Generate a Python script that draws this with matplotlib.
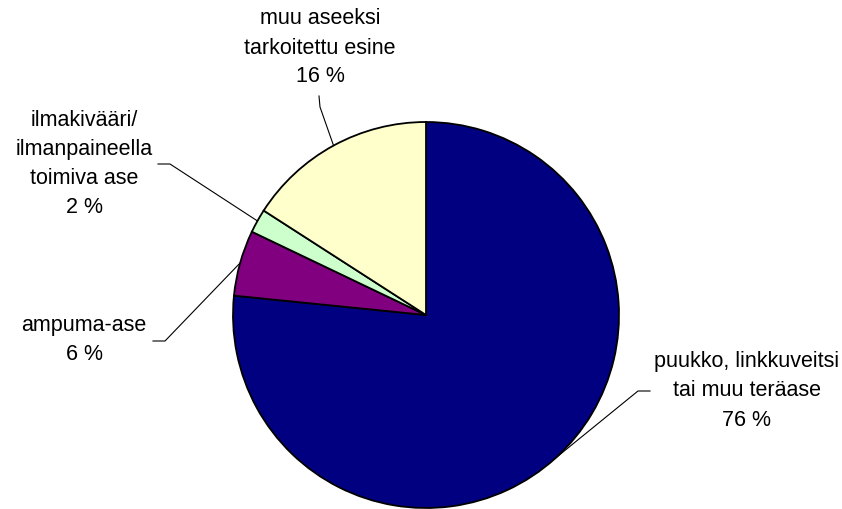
import numpy as np
import matplotlib.pyplot as plt

# Share of weapon types (slices clockwise from the top)
labels = ['puukko, linkkuveitsi\ntai muu teräase', 'ampuma-ase',
          'ilmakivääri/\nilmanpaineella\ntoimiva ase', 'muu aseeksi\ntarkoitettu esine']
shares = [76.6, 5.5, 2.0, 15.9]
pct_text = ['76 %', '6 %', '2 %', '16 %']
colors = ['#000080', '#800080', '#CCFFCC', '#FFFFCC']

W, H = 842, 509
cx, cy, R = 426, 315, 193  # pie centre and radius in pixels


def px(x, y):
    # pixel position -> data coords (pie radius = 1)
    return (x - cx) / R, (cy - y) / R


plt.rcParams['font.family'] = ['Liberation Sans', 'DejaVu Sans']
fig = plt.figure(figsize=(W / 100, H / 100), dpi=100)
ax = fig.add_axes([0, 0, 1, 1])

wedges, _ = ax.pie(shares, colors=colors, startangle=90, counterclock=False,
                   radius=1, center=(0, 0),
                   wedgeprops=dict(edgecolor='black', linewidth=1.3))

# label text centre and leader elbow points (pixels)
text_pos = [(747, 391), (84, 340), (84, 164), (320, 48)]
elbows = [[(650, 391), (638, 391)],
          [(153, 341), (165, 341)],
          [(158, 164), (170, 164)],
          [(319, 96), (320, 107)]]

for w, lab, pc, tp, el in zip(wedges, labels, pct_text, text_pos, elbows):
    tx, ty = px(*tp)
    ax.text(tx, ty, lab + '\n' + pc, ha='center', va='center', fontsize=15.5,
            linespacing=1.5, color='black')
    mid = np.deg2rad((w.theta1 + w.theta2) / 2)
    pts = [px(*p) for p in el] + [(np.cos(mid), np.sin(mid))]
    ax.plot([p[0] for p in pts], [p[1] for p in pts], color='black', lw=0.8)

ax.set_xlim(px(0, 0)[0], px(W, 0)[0])
ax.set_ylim(px(0, H)[1], px(0, 0)[1])
ax.set_aspect('auto')
ax.axis('off')
fig.savefig('out.png', dpi=100, facecolor='white')
